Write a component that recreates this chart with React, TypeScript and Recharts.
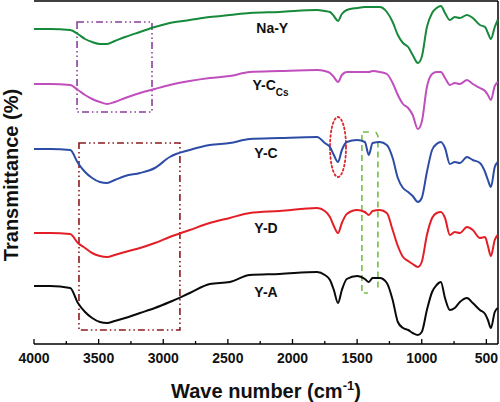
import React from 'react';
import {
  LineChart,
  Line,
  XAxis,
  YAxis,
  ReferenceLine,
  ReferenceArea,
  ReferenceDot,
} from 'recharts';

// Wave numbers (cm^-1) at which the spectra are sampled
const WAVENUMBERS = [
  4000, 3875, 3720, 3660, 3605, 3550, 3490, 3435, 3375, 3295,
  3180, 3065, 2950, 2795, 2640, 2485, 2330, 2100, 1810, 1750,
  1710, 1680, 1648, 1618, 1580, 1500, 1440, 1410, 1380, 1325,
  1270, 1225, 1185, 1145, 1105, 1070, 1030, 1000, 960, 920,
  885, 852, 820, 782, 745, 705, 650, 605, 550, 510,
  488, 465, 435, 412,
];

// Transmittance (offset, arbitrary units)
const NA_Y = [
  315, 315, 314, 310, 305, 302, 300, 300, 303, 307,
  312, 317, 321, 324, 327, 329, 331, 332, 334, 333,
  332, 328, 323, 330, 334, 336, 337, 337, 337, 337,
  332, 322, 309, 301, 297, 289, 281, 287, 317, 331,
  336, 338, 331, 324, 327, 326, 329, 326, 319, 317,
  311, 305, 317, 324,
];
const Y_CCS = [
  260, 260, 259, 254, 249, 245, 242, 240, 242, 246,
  251, 255, 259, 263, 266, 268, 272, 273, 274, 273,
  271, 267, 262, 269, 272, 272, 272, 272, 273, 272,
  270, 261, 249, 240, 236, 229, 215, 222, 257, 270,
  272, 272, 266, 259, 261, 260, 264, 260, 256, 253,
  249, 244, 258, 262,
];
const Y_C = [
  195, 195, 194, 181, 172, 166, 162, 161, 164, 168,
  171, 176, 187, 194, 199, 201, 205, 206, 207, 201,
  197, 189, 182, 194, 202, 204, 202, 189, 201, 202,
  199, 186, 166, 156, 152, 148, 142, 146, 172, 194,
  200, 202, 196, 180, 182, 181, 187, 184, 181, 172,
  164, 157, 177, 182,
];
const Y_D = [
  111, 111, 110, 101, 96, 91, 88, 87, 89, 92,
  96, 101, 107, 114, 121, 126, 131, 133, 136, 133,
  127, 118, 111, 121, 130, 134, 132, 129, 133, 134,
  131, 114, 98, 87, 83, 80, 77, 82, 109, 126,
  131, 132, 126, 109, 112, 111, 117, 114, 106, 107,
  98, 88, 104, 109,
];
const Y_A = [
  58, 58, 56, 41, 32, 26, 22, 21, 23, 26,
  31, 36, 42, 51, 60, 62, 69, 70, 72, 69,
  64, 54, 41, 54, 65, 68, 65, 62, 66, 66,
  61, 44, 22, 16, 14, 11, 9, 12, 34, 52,
  59, 62, 46, 34, 36, 42, 46, 41, 34, 30,
  24, 16, 32, 36,
];

const X_TICKS = [
  4000, 3750, 3500, 3250, 3000, 2750, 2500, 2250, 2000, 1750,
  1500, 1250, 1000, 750, 500,
];
const X_DOMAIN = [410, 4000];
const Y_DOMAIN = [0, 343];

const SERIES = [
  { key: 'naY', label: 'Na-Y', color: '#17893A' },
  { key: 'yCcs', label: 'Y-CCs', color: '#C04EBD' },
  { key: 'yC', label: 'Y-C', color: '#2D4CA6' },
  { key: 'yD', label: 'Y-D', color: '#E41E26' },
  { key: 'yA', label: 'Y-A', color: '#0A0A0A' },
];

// label anchor positions (wave number, transmittance)
const LABEL_WN = [2280, 2310, 2295, 2295, 2295];
const LABEL_T = [311, 254, 186, 111, 47];

const data = WAVENUMBERS.map((wn, i) => ({
  wn,
  naY: NA_Y[i],
  yCcs: Y_CCS[i],
  yC: Y_C[i],
  yD: Y_D[i],
  yA: Y_A[i],
}));

const FONT = '"Liberation Sans", Arial, Helvetica, sans-serif';

const XTick = (props: any) => {
  const { x, y, payload } = props;
  const v = payload.value;
  const major = v % 500 === 0;
  const axisY = y - 8;
  return (
    <g>
      <line x1={x} x2={x} y1={axisY} y2={axisY - (major ? 5 : 3)} stroke="#000" strokeWidth={1.3} />
      {major && (
        <text x={x} y={axisY + 19} textAnchor="middle" fontSize={14} fontWeight="bold" fontFamily={FONT} fill="#111">
          {v}
        </text>
      )}
    </g>
  );
};

const XTitle = (props: any) => {
  const vb = props.viewBox || { x: 34, y: 344, width: 464, height: 58 };
  const cx = vb.x + vb.width / 2;
  return (
    <text x={cx} y={vb.y + 54} textAnchor="middle" fontSize={20} fontWeight="bold" fontFamily={FONT} fill="#111">
      <tspan>Wave number (cm</tspan>
      <tspan fontSize={13} dy={-8}>-1</tspan>
      <tspan dy={8}>)</tspan>
    </text>
  );
};

const DashDotBox = (color: string) => (p: any) => (
  <rect
    x={p.x}
    y={p.y}
    width={p.width}
    height={p.height}
    fill="none"
    stroke={color}
    strokeWidth={1.6}
    strokeDasharray="7 3 1.5 3 1.5 3"
  />
);

const DottedEllipse = (p: any) => (
  <ellipse
    cx={p.x + p.width / 2}
    cy={p.y + p.height / 2}
    rx={p.width / 2}
    ry={p.height / 2}
    fill="none"
    stroke="#E0262B"
    strokeWidth={1.8}
    strokeDasharray="1.8 2.6"
    strokeLinecap="round"
  />
);

const Bracket = (p: any) => {
  const { x, y, width: w, height: h } = p;
  const d = `M ${x + 7} ${y} L ${x} ${y} L ${x} ${y + h} L ${x + 6} ${y + h} M ${x + w - 2} ${y} L ${x + w} ${y + 4} L ${x + w} ${y + h - 3}`;
  return <path d={d} fill="none" stroke="#74BE45" strokeWidth={1.6} strokeDasharray="6 4" />;
};

const SeriesLabel = (text: string) => (p: any) => {
  const { cx, cy } = p;
  if (text === 'Y-CCs') {
    return (
      <text x={cx} y={cy} fontSize={14} fontWeight="bold" fontFamily={FONT} fill="#111">
        <tspan>Y-C</tspan>
        <tspan fontSize={10} dy={6}>Cs</tspan>
      </text>
    );
  }
  return (
    <text x={cx} y={cy} fontSize={14} fontWeight="bold" fontFamily={FONT} fill="#111">
      {text}
    </text>
  );
};

export default function App() {
  return (
    <div style={{ position: 'absolute', left: 0, top: 0, width: 500, height: 402, background: '#fff' }}>
      <LineChart width={500} height={402} data={data} margin={{ top: 1, right: 2, left: 34, bottom: 0 }}>
        <XAxis
          dataKey="wn"
          type="number"
          domain={X_DOMAIN}
          reversed
          ticks={X_TICKS}
          interval={0}
          tickLine={false}
          tickSize={6}
          tickMargin={2}
          tick={<XTick />}
          height={58}
          axisLine={{ stroke: '#000', strokeWidth: 1.5 }}
          label={<XTitle />}
        />
        <YAxis
          type="number"
          domain={Y_DOMAIN}
          width={0}
          tick={false}
          tickLine={false}
          axisLine={{ stroke: '#000', strokeWidth: 1.5 }}
        />
        <ReferenceLine y={Y_DOMAIN[1]} stroke="#000" strokeWidth={1.5} />
        <ReferenceLine x={X_DOMAIN[0]} stroke="#000" strokeWidth={1.5} />

        <ReferenceArea x1={3667} x2={3087} y1={232} y2={322} shape={DashDotBox('#8A3E9C')} />
        <ReferenceArea x1={3652} x2={2871} y1={14} y2={201} shape={DashDotBox('#8B1A1E')} />
        <ReferenceArea x1={1710} x2={1586} y1={167} y2={227} shape={DottedEllipse} />
        <ReferenceArea x1={1463} x2={1339} y1={51} y2={212} shape={Bracket} />

        {SERIES.map((s) => (
          <Line
            key={s.key}
            dataKey={s.key}
            type="monotone"
            stroke={s.color}
            strokeWidth={2}
            dot={false}
            isAnimationActive={false}
          />
        ))}

        {SERIES.map((s, i) => (
          <ReferenceDot key={'l' + s.key} x={LABEL_WN[i]} y={LABEL_T[i]} r={0} shape={SeriesLabel(s.label)} />
        ))}
      </LineChart>
      <svg
        width={34}
        height={402}
        style={{ position: 'absolute', left: 0, top: 0, pointerEvents: 'none' }}
      >
        <text
          x={18}
          y={175}
          transform="rotate(-90 18 175)"
          textAnchor="middle"
          fontSize={20}
          fontWeight="bold"
          fontFamily={FONT}
          fill="#111"
        >
          Transmittance (%)
        </text>
      </svg>
    </div>
  );
}
